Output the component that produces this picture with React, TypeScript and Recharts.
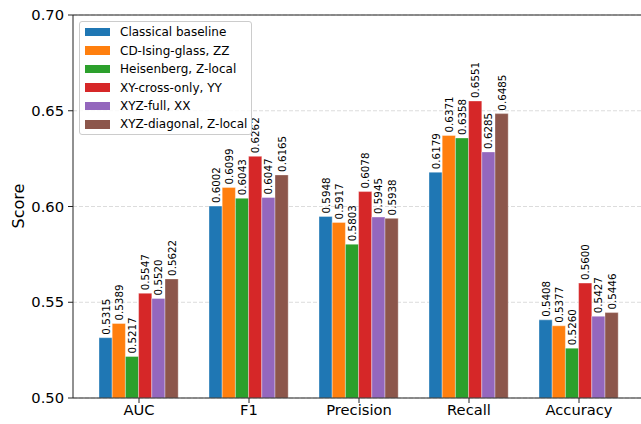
import React from 'react';
import {
  BarChart, Bar, XAxis, YAxis, CartesianGrid, ReferenceLine,
} from 'recharts';

const categories: string[] = ['AUC', 'F1', 'Precision', 'Recall', 'Accuracy'];

const seriesNames: string[] = [
  'Classical baseline',
  'CD-Ising-glass, ZZ',
  'Heisenberg, Z-local',
  'XY-cross-only, YY',
  'XYZ-full, XX',
  'XYZ-diagonal, Z-local',
];

const seriesColors: string[] = ['#1f77b4', '#ff7f0e', '#2ca02c', '#d62728', '#9467bd', '#8c564b'];

// one array per model, in category order
const classical: number[] = [0.5315, 0.6002, 0.5948, 0.6179, 0.5408];
const cdIsing: number[] = [0.5389, 0.6099, 0.5917, 0.6371, 0.5377];
const heisenberg: number[] = [0.5217, 0.6043, 0.5803, 0.6358, 0.5260];
const xyCross: number[] = [0.5547, 0.6262, 0.6078, 0.6551, 0.5600];
const xyzFull: number[] = [0.5520, 0.6047, 0.5945, 0.6285, 0.5427];
const xyzDiag: number[] = [0.5622, 0.6165, 0.5938, 0.6485, 0.5446];

const seriesValues: number[][] = [classical, cdIsing, heisenberg, xyCross, xyzFull, xyzDiag];

const yTicks: number[] = [0.5, 0.55, 0.6, 0.65, 0.7];

const rows = categories.map((name, i) => {
  const row: Record<string, string | number> = { name };
  seriesValues.forEach((vals, s) => { row['s' + s] = vals[i]; });
  return row;
});

const FONT = 'DejaVu Sans, sans-serif';

const BarLabel = (props: any): React.ReactElement => {
  const { x, y, width, value } = props;
  const cx = Number(x) + Number(width) / 2;
  const ty = Number(y) - 3;
  return (
    <text
      x={cx}
      y={ty}
      transform={`rotate(-90, ${cx}, ${ty})`}
      textAnchor='start'
      dominantBaseline='central'
      fontSize={10.3}
      fontFamily={FONT}
      fill='#000'
    >
      {Number(value).toFixed(4)}
    </text>
  );
};

const ScoreLabel = (): React.ReactElement => (
  <text
    x={18}
    y={206}
    transform='rotate(-90, 18, 206)'
    textAnchor='middle'
    dominantBaseline='central'
    fontSize={16}
    fontFamily={FONT}
    fill='#000'
  >
    Score
  </text>
);

export default (): React.ReactElement => {
  return (
    <div style={{
      position: 'absolute', left: 0, top: 0, width: 641, height: 424,
      overflow: 'hidden', background: '#fff', fontFamily: FONT,
    }}>
      <BarChart
        width={645}
        height={424}
        data={rows}
        margin={{ top: 15, right: 0, bottom: 0, left: 0 }}
        barGap={0}
      >
        <CartesianGrid
          vertical={false}
          strokeDasharray='4 2'
          stroke='#dcdcdc'
        />

        <XAxis
          dataKey='name'
          height={26}
          padding={{ left: 11, right: 11 }}
          tickSize={5}
          tickMargin={2}
          stroke='#222'
          tick={{ fill: '#000', fontSize: 14.7, fontFamily: FONT }}
        />

        <YAxis
          type='number'
          domain={[0.5, 0.7]}
          ticks={yTicks}
          allowDataOverflow
          width={73}
          tickSize={5}
          tickMargin={4}
          stroke='#222'
          tick={{ fill: '#000', fontSize: 14.7, fontFamily: FONT }}
          tickFormatter={(v: number) => v.toFixed(2)}
          label={{ content: ScoreLabel }}
        />

        <ReferenceLine y={0.7} stroke='#222' />

        {seriesNames.map((name, s) => (
          <Bar
            key={name}
            dataKey={'s' + s}
            name={name}
            fill={seriesColors[s]}
            stroke='#ffffff'
            strokeOpacity={0.45}
            strokeWidth={0.8}
            barSize={13.2}
            isAnimationActive={false}
            label={BarLabel}
          />
        ))}
      </BarChart>

      <div style={{
        position: 'absolute', left: 79, top: 21, width: 171, height: 111,
        border: '1px solid #cccccc', borderRadius: 3,
        background: 'rgba(255,255,255,0.85)', boxSizing: 'content-box',
        paddingTop: 1,
      }}>
        {seriesNames.map((name, s) => (
          <div key={name} style={{
            display: 'flex', alignItems: 'center', height: 18.45,
            fontSize: 12, color: '#000', whiteSpace: 'nowrap',
          }}>
            <span style={{
              display: 'inline-block', width: 25, height: 8.5,
              marginLeft: 5, marginRight: 10, background: seriesColors[s],
            }} />
            {name}
          </div>
        ))}
      </div>
    </div>
  );
}
